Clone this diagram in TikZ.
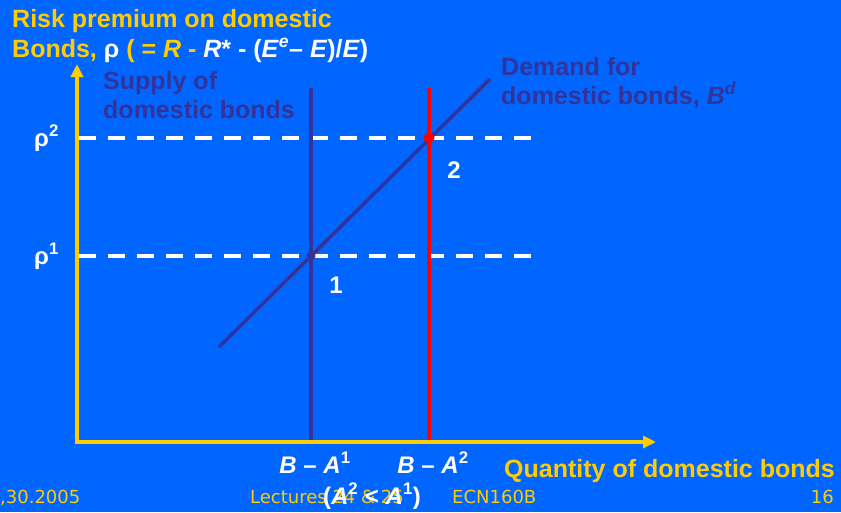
\documentclass[tikz,border=0pt]{standalone}
\usepackage{fontspec}
\setmainfont{Liberation Sans}
\newfontfamily\footfont{DejaVu Sans}
\usetikzlibrary{arrows.meta}
\definecolor{bg}{RGB}{0,102,255}
\definecolor{axisyellow}{RGB}{255,204,0}
\definecolor{curvepurple}{RGB}{51,51,153}
\definecolor{curvered}{RGB}{255,0,0}
\tikzset{
  axisline/.style={axisyellow, line width=4pt, -{Triangle[length=13pt,width=12pt]}},
  supplyline/.style={curvepurple, line width=4pt},
  shiftline/.style={curvered, line width=4pt},
  demandline/.style={curvepurple, line width=3.5pt},
  guide/.style={white, line width=3.5pt, dash pattern=on 17pt off 12pt},
  ytitle/.style={inner sep=0pt, anchor=base west, text=axisyellow, font=\fontsize{25}{29}\selectfont\bfseries},
  curvelabel/.style={inner sep=0pt, anchor=base west, text=curvepurple, font=\fontsize{25}{29}\selectfont\bfseries},
  whitelabel/.style={inner sep=0pt, text=white, font=\fontsize{24}{28}\selectfont\bfseries},
  footlabel/.style={inner sep=0pt, anchor=base west, text=axisyellow, font=\footfont\fontsize{18}{21}\selectfont},
}
\begin{document}
\begin{tikzpicture}[x=1pt,y=-1pt]
\fill[bg] (0,0) rectangle (841,512);
\useasboundingbox (0,0) rectangle (841,512);

% axes
\coordinate (O) at (77,442);
\coordinate (ytip) at (77,64);
\coordinate (xtip) at (656,442);
\draw[axisline] (77,444) -- (ytip);
\draw[axisline] (75,442) -- (xtip);

% guide lines
\coordinate (r2a) at (79,138);
\coordinate (r2b) at (540,138);
\coordinate (r1a) at (79,256);
\coordinate (r1b) at (540,256);
\draw[guide] (r2a) -- (r2b);
\draw[guide] (r1a) -- (r1b);

% supply curves
\coordinate (s1top) at (311,88);
\coordinate (s1bot) at (311,440);
\coordinate (s2top) at (429,88);
\coordinate (s2bot) at (429,440);
\draw[supplyline] (s1top) -- (s1bot);
\draw[shiftline] (s2top) -- (s2bot);

% demand curve
\coordinate (dlow) at (219,347);
\coordinate (dhigh) at (490,79);
\draw[demandline] (dlow) -- (dhigh);

% equilibria
\fill[curvepurple] (311,256) circle (4.5pt);
\fill[curvered] (429,138) circle (5.5pt);

% labels
\node[ytitle] (t1) at (12,27) {Risk premium on domestic};
\node[ytitle] (t2) at (12,57) {Bonds, \textcolor{white}{ρ} ( = \textit{R} - \textcolor{white}{\textit{R}* - (\textit{E}\textsuperscript{\textit{e}}– \textit{E})/\textit{E})}};

\node[curvelabel] (sl1) at (103,89) {Supply of};
\node[curvelabel] (sl2) at (103,118) {domestic bonds};
\node[curvelabel] (dl1) at (501,75) {Demand for};
\node[curvelabel] (dl2) at (501,104) {domestic bonds, \textit{B}\textsuperscript{\textit{d}}};

\node[whitelabel, anchor=base west] (rho2) at (34,146) {ρ\textsuperscript{2}};
\node[whitelabel, anchor=base west] (rho1) at (34,264) {ρ\textsuperscript{1}};
\node[whitelabel] (e1) at (336,285) {1};
\node[whitelabel] (e2) at (454,170) {2};

\node[whitelabel, anchor=base] (ba1) at (315,473) {\textit{B} – \textit{A}\textsuperscript{1}};
\node[whitelabel, anchor=base] (ba2) at (433,473) {\textit{B} – \textit{A}\textsuperscript{2}};

\node[footlabel] (f1) at (0,503) {,30.2005};
\node[footlabel] (f2) at (250,503) {Lectures 24 \& 25};
\node[footlabel] (f3) at (452,503) {ECN160B};
\node[footlabel, anchor=base east] (f4) at (834,503) {16};

\node[whitelabel, anchor=base] (cmp) at (372,504) {(\textit{A}\textsuperscript{2} < \textit{A}\textsuperscript{1})};
\node[ytitle, anchor=base east] (qlab) at (835,477) {Quantity of domestic bonds};
\end{tikzpicture}
\end{document}
